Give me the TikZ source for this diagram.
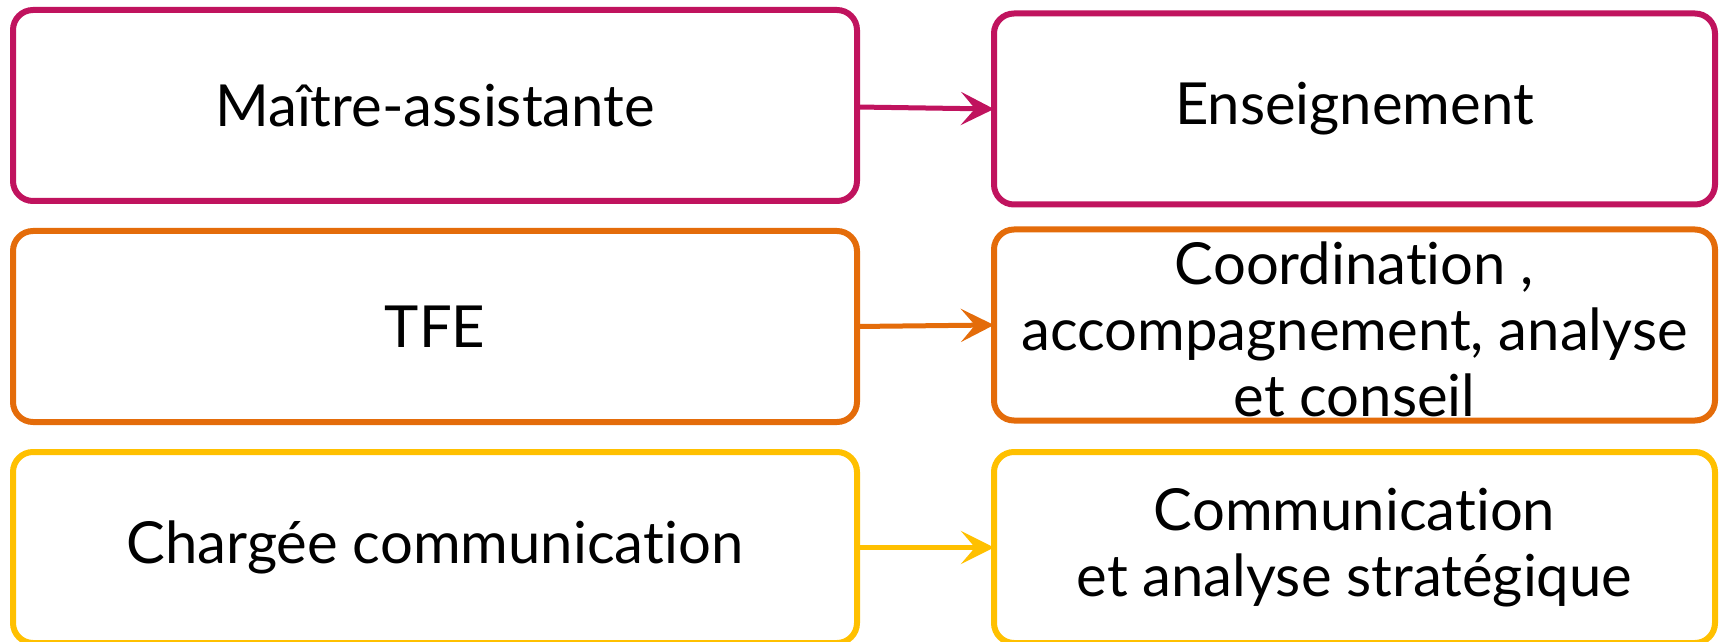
\documentclass[tikz,border=0pt]{standalone}
\usepackage{fontspec}
\setmainfont{Lato}[Ligatures={NoCommon}]
\usetikzlibrary{arrows.meta}
\definecolor{cmag}{HTML}{C0135E}
\definecolor{corg}{HTML}{E46C0A}
\definecolor{cyel}{HTML}{FFC000}
\tikzset{
  box/.style={draw=#1, line width=3pt, rounded corners=10pt, fill=white,
    inner sep=0pt, outer sep=0pt},
  lbox/.style={box=#1, minimum width=422pt, minimum height=95.5pt},
  rbox/.style={box=#1, minimum width=360.5pt, minimum height=95.5pt},
  txt/.style={font=\fontsize{29}{33}\selectfont, align=center, inner sep=0pt, text=black},
  conn/.style={draw=#1, line width=2.5pt, -{Stealth[length=16.5pt,width=16.5pt,inset=7pt]}}
}
\begin{document}
\begin{tikzpicture}[x=0.5pt,y=-0.5pt]
\useasboundingbox (0,0) rectangle (1721,642);
\node[lbox=cmag] (L1) at (435,105.5) {};
\node[rbox=cmag] (R1) at (1354.5,109) {};
\node[lbox=corg] (L2) at (435,326.5) {};
\node[rbox=corg] (R2) at (1354.5,325) {};
\node[lbox=cyel] (L3) at (435,547.5) {};
\node[rbox=cyel] (R3) at (1354.5,547.5) {};

\node[txt] (tL1) at (L1.center) {Maître-assistante};
\node[txt] (tR1) at (R1.center) {Enseignement};
\node[txt] (tL2) at (L2.center) {TFE};
\node[txt] (tR2) at ([yshift=-2pt]R2.center) {Coordination ,\\accompagnement, analyse\\et conseil};
\node[txt] (tL3) at (L3.center) {Chargée communication};
\node[txt] (tR3) at (R3.center) {Communication\\et analyse stratégique};

\draw[conn=cmag] ([yshift=-0.75pt]L1.east) -- (R1.west);
\draw[conn=corg] (L2.east) -- (R2.west);
\draw[conn=cyel] (L3.east) -- (R3.west);
\end{tikzpicture}
\end{document}
